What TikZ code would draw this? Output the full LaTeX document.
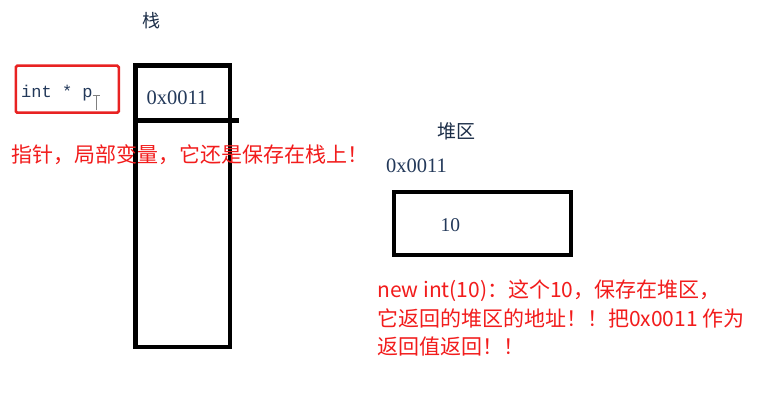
\documentclass[tikz,border=0pt]{standalone}
\usepackage{fontspec}
\setmainfont{Liberation Serif}
\setmonofont{Liberation Mono}
\newfontfamily\cjk{Noto Sans CJK SC}
\definecolor{inkblue}{HTML}{23395A}
\definecolor{notered}{HTML}{F21C1C}
\definecolor{boxred}{HTML}{E82222}
\begin{document}
\begin{tikzpicture}[x=1pt,y=-1pt,
  thickbox/.style={line width=4.5pt,draw=black},
  val/.style={inner sep=0pt,text=inkblue,font=\fontsize{20.5}{24}\selectfont},
  title/.style={inner sep=0pt,text=inkblue!80!black,font=\cjk\fontsize{18}{21}\selectfont},
  note/.style={inner sep=0pt,text=notered,font=\cjk\fontsize{21}{28.5}\selectfont,align=left}]
\useasboundingbox[fill=white] (0,0) rectangle (765,406);
% stack
\draw[thickbox] (135.5,65.5) rectangle (230,347);
\draw[thickbox] (135.5,120.5) -- (238.5,120.5);
\node[title] (stacklbl) at (151.5,20.5) {栈};
\node[val,anchor=base west] (stackval) at (146.5,105) {0x0011};
% pointer variable
\node[draw=boxred,line width=2.5pt,rounded corners=1.5pt,minimum width=103pt,minimum height=47pt,anchor=north west] (ptrbox) at (14.5,64.5) {};
\node[inner sep=0pt,anchor=base west,text=inkblue,font=\ttfamily\fontsize{17}{20}\selectfont] (ptr) at (21,98) {int * p};
\draw[gray,line width=1pt] (92.5,95.5) -- (100,95.5) (96.3,95.5) -- (96.3,110);
\node[note,anchor=base west] (note1) at (11,163) {指针，局部变量，它还是保存在栈上！};
% heap
\node[title,font=\cjk\fontsize{19}{22}\selectfont] (heaplbl) at (456,131) {堆区};
\node[val,anchor=base west] (heapaddr) at (386,172) {0x0011};
\draw[thickbox] (394,192) rectangle (571,255);
\node[val,font=\fontsize{19.5}{22}\selectfont,anchor=base west] (heapval) at (440.5,231) {10};
\node[note,anchor=north west] (note2) at (377,280) {new int(10)：这个10，保存在堆区，\\它返回的堆区的地址！！把0x0011 作为\\返回值返回！！};
\end{tikzpicture}
\end{document}
